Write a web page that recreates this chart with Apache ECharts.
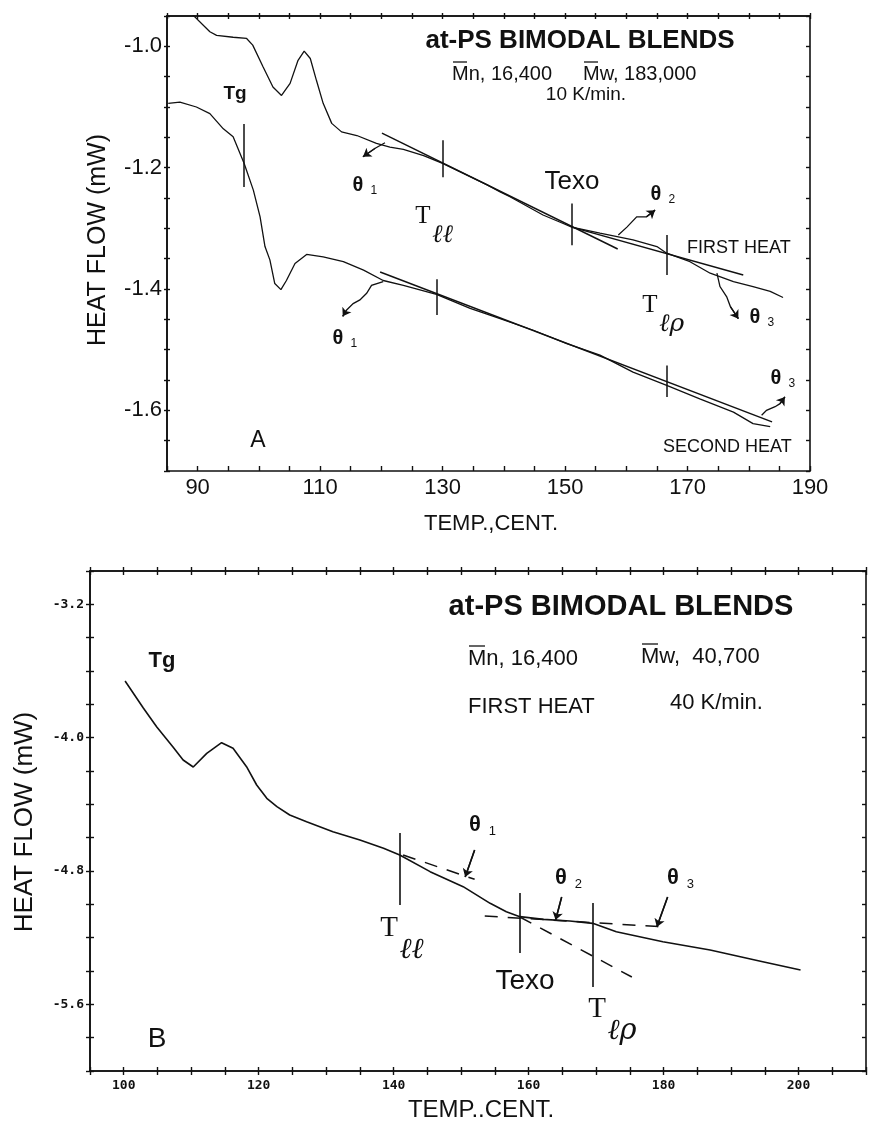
<!DOCTYPE html>
<html><head><meta charset="utf-8">
<script src="https://cdn.jsdelivr.net/npm/echarts@6/dist/echarts.min.js"></script>
<style>html,body{margin:0;padding:0;background:#fff}#c{width:869px;height:1122px}</style>
</head><body><div id="c"></div>
<script>
// ---------- Panel A data ----------
const fhT = [88.5, 89.2, 92.0, 93.1, 95.8, 98.0, 99.0, 100.7, 102.3, 103.7, 105.1, 106.4, 107.4, 108.4, 109.4, 110.5, 111.9, 113.5, 116.0, 119.2, 121.4, 123.6, 126.9, 130.0, 137.2, 139.4, 141.0, 146.4, 149.7, 151.1, 155.7, 161.1, 165.0, 166.6, 170.4, 173.7, 177.5, 180.7, 183.5, 185.6];
const fhV = [-0.935, -0.948, -0.976, -0.982, -0.985, -0.987, -0.998, -1.034, -1.067, -1.081, -1.061, -1.023, -1.008, -1.020, -1.056, -1.094, -1.127, -1.141, -1.147, -1.160, -1.166, -1.170, -1.180, -1.193, -1.228, -1.240, -1.248, -1.278, -1.292, -1.298, -1.308, -1.319, -1.330, -1.341, -1.355, -1.374, -1.388, -1.396, -1.404, -1.414];
const shT = [85.2, 87.1, 89.8, 92.0, 94.2, 95.8, 97.6, 99.1, 100.2, 101.0, 101.8, 102.6, 103.6, 104.5, 105.9, 107.8, 110.5, 113.8, 117.1, 120.3, 123.6, 129.0, 134.5, 139.4, 144.8, 150.3, 155.7, 161.1, 166.6, 172.0, 177.5, 180.7, 183.5];
const shV = [-1.094, -1.092, -1.100, -1.111, -1.136, -1.149, -1.193, -1.237, -1.281, -1.330, -1.352, -1.391, -1.401, -1.386, -1.358, -1.343, -1.347, -1.355, -1.369, -1.386, -1.394, -1.409, -1.432, -1.449, -1.468, -1.490, -1.509, -1.537, -1.559, -1.581, -1.603, -1.622, -1.627];
const aTangents = [
  [[120.1, -1.143], [158.6, -1.334]],
  [[151.1, -1.298], [179.1, -1.377]],
  [[119.8, -1.372], [183.8, -1.619]]
];
const aTickT   = [97.6, 130.0, 151.1, 166.6, 129.0, 166.6];
const aTickTop = [-1.128, -1.155, -1.259, -1.311, -1.384, -1.526];
const aTickBot = [-1.232, -1.216, -1.328, -1.377, -1.443, -1.578];
const aArrows = [
  [[120.6, -1.159], [119.0, -1.168], [117.0, -1.182]],
  [[120.3, -1.388], [118.4, -1.394], [117.6, -1.407], [116.5, -1.418], [115.4, -1.424], [114.3, -1.435], [113.7, -1.445]],
  [[158.7, -1.311], [160.1, -1.298], [161.7, -1.281], [163.3, -1.281], [164.7, -1.270]],
  [[174.8, -1.374], [175.3, -1.396], [176.4, -1.413], [177.0, -1.429], [178.3, -1.449]],
  [[182.1, -1.608], [182.9, -1.600], [184.3, -1.594], [185.1, -1.589], [185.9, -1.578]]
];
const aXLabels = [90, 110, 130, 150, 170, 190];
const aYLabels = [-1.0, -1.2, -1.4, -1.6];

// ---------- Panel B data ----------
const bT = [100.2, 102.9, 104.9, 107.3, 108.8, 110.3, 112.3, 114.5, 116.2, 118.2, 119.7, 121.2, 122.7, 124.6, 127.1, 131.0, 135.0, 138.5, 140.9, 145.4, 150.3, 154.3, 156.7, 158.7, 162.2, 166.1, 169.5, 173.0, 179.9, 186.9, 194.7, 200.3];
const bV = [-3.660, -3.822, -3.936, -4.056, -4.134, -4.176, -4.094, -4.030, -4.064, -4.174, -4.284, -4.364, -4.414, -4.464, -4.504, -4.564, -4.614, -4.664, -4.704, -4.804, -4.894, -4.994, -5.044, -5.074, -5.090, -5.100, -5.114, -5.164, -5.224, -5.274, -5.344, -5.394];
const bDashed = [
  [[141.4, -4.704], [152.0, -4.850]],
  [[158.7, -5.076], [175.3, -5.436]],
  [[153.5, -5.070], [180.2, -5.136]]
];
const bTickT   = [140.9, 158.7, 169.5];
const bTickTop = [-4.572, -4.932, -4.992];
const bTickBot = [-5.004, -5.292, -5.496];
const bArrows = [
  [[152.0, -4.674], [150.6, -4.836]],
  [[164.9, -4.956], [164.0, -5.094]],
  [[180.6, -4.956], [179.0, -5.136]]
];
const bXLabels = [100, 120, 140, 160, 180, 200];
const bYLabels = [-3.2, -4.0, -4.8, -5.6];

// ---------- build ----------
const zip = (a, b) => a.map((v, i) => [v, b[i]]);
const BLK = '#111';
const SANS = 'Liberation Sans';

function xAx(grid, pos, min, max, iv, inside, len, labels, lblStyle) {
  return {
    type: 'value', gridIndex: grid, position: pos, min, max, interval: iv,
    axisLine: { show: true, onZero: false, lineStyle: { color: BLK, width: 1.6 } },
    axisTick: { show: true, inside, length: len, lineStyle: { color: BLK, width: 1.4 } },
    splitLine: { show: false },
    axisLabel: labels ? Object.assign({ show: true, color: BLK,
      formatter: v => labels.some(l => Math.abs(l - v) < 1e-6) ? String(Math.round(v)) : '' }, lblStyle) : { show: false }
  };
}
function yAx(grid, pos, min, max, iv, inside, len, labels, lblStyle) {
  return {
    type: 'value', gridIndex: grid, position: pos, min, max, interval: iv,
    axisLine: { show: true, onZero: false, lineStyle: { color: BLK, width: 1.6 } },
    axisTick: { show: true, inside, length: len, lineStyle: { color: BLK, width: 1.4 } },
    splitLine: { show: false },
    axisLabel: labels ? Object.assign({ show: true, color: BLK,
      formatter: v => labels.some(l => Math.abs(l - v) < 1e-6) ? v.toFixed(1) : '' }, lblStyle) : { show: false }
  };
}

const aXL = { fontFamily: SANS, fontSize: 22, margin: 6 };
const aYL = { fontFamily: SANS, fontSize: 22, margin: 5 };
const bXL = { fontFamily: 'DejaVu Sans Mono', fontWeight: 'bold', fontSize: 13, margin: 8 };
const bYL = { fontFamily: 'DejaVu Sans Mono', fontWeight: 'bold', fontSize: 13, margin: 6 };

const xAxis = [
  xAx(0, 'bottom', 85, 190, 5, true, 5, aXLabels, aXL),
  xAx(0, 'top', 85, 190, 5, true, 3),
  xAx(0, 'top', 85, 190, 5, false, 3),
  xAx(1, 'bottom', 95, 210, 5, false, 4, bXLabels, bXL),
  xAx(1, 'bottom', 95, 210, 5, true, 4),
  xAx(1, 'top', 95, 210, 5, true, 4),
  xAx(1, 'top', 95, 210, 5, false, 4)
];
const yAxis = [
  yAx(0, 'left', -1.7, -0.95, 0.05, false, 3, aYLabels, aYL),
  yAx(0, 'left', -1.7, -0.95, 0.05, true, 3),
  yAx(0, 'right', -1.7, -0.95, 0.05, true, 4),
  yAx(1, 'left', -6.0, -3.0, 0.2, false, 4, bYLabels, bYL),
  yAx(1, 'left', -6.0, -3.0, 0.2, true, 4),
  yAx(1, 'right', -6.0, -3.0, 0.2, true, 4)
];

const series = [];
function curve(data, xi, yi, w, extra) {
  series.push(Object.assign({ type: 'line', xAxisIndex: xi, yAxisIndex: yi, data, showSymbol: false, symbol: 'none',
    clip: true, silent: true, lineStyle: { color: BLK, width: w } }, extra || {}));
}
function ticks(T, top, bot, xi, yi, w) {
  series.push({ type: 'lines', coordinateSystem: 'cartesian2d', xAxisIndex: xi, yAxisIndex: yi, silent: true,
    data: T.map((t, i) => ({ coords: [[t, top[i]], [t, bot[i]]] })),
    lineStyle: { color: BLK, width: w, opacity: 1 } });
}
function arrows(list, xi, yi, w) {
  series.push({ type: 'lines', coordinateSystem: 'cartesian2d', xAxisIndex: xi, yAxisIndex: yi, silent: true,
    polyline: true, data: list.map(c => ({ coords: c })), lineStyle: { color: BLK, width: w, opacity: 1 } });
  series.push({ type: 'lines', coordinateSystem: 'cartesian2d', xAxisIndex: xi, yAxisIndex: yi, silent: true,
    symbol: ['none', 'arrow'], symbolSize: 8,
    data: list.map(c => ({ coords: c.slice(-2) })), lineStyle: { color: BLK, width: w, opacity: 1 } });
}
curve(zip(fhT, fhV), 0, 0, 1.3);
curve(zip(shT, shV), 0, 0, 1.3);
aTangents.forEach(t => curve(t, 0, 0, 1.5));
ticks(aTickT, aTickTop, aTickBot, 0, 0, 1.5);
arrows(aArrows, 0, 0, 1.3);

curve(zip(bT, bV), 3, 3, 1.6);
bDashed.forEach(t => curve(t, 3, 3, 1.5, { lineStyle: { color: BLK, width: 1.5, type: [13, 10] } }));
ticks(bTickT, bTickTop, bTickBot, 3, 3, 1.6);
arrows(bArrows, 3, 3, 1.5);

// ---------- text annotations ----------
const G = [];
function txt(text, x, y, font, align, rot) {
  G.push({ type: 'text', x, y, rotation: rot || 0, silent: true,
    style: { text, font, fill: BLK, align: align || 'center', verticalAlign: 'middle',
             textAlign: align || 'center', textVerticalAlign: 'middle' } });
}
function bar(x1, x2, y) {
  G.push({ type: 'line', silent: true, shape: { x1, y1: y, x2, y2: y }, style: { stroke: BLK, lineWidth: 1.3 } });
}
function theta(x, y, sub, size) {
  txt('θ', x, y, 'bold ' + size + 'px ' + SANS, 'center');
  txt(sub, x + size * 0.62, y + size * 0.28, Math.round(size * 0.6) + 'px ' + SANS, 'left');
}
function tsub(x, y, sub, size) {
  txt('T', x, y, size + 'px "Liberation Serif"', 'center');
  txt(sub, x + size * 0.36, y + size * 0.78, 'italic ' + size + 'px "DejaVu Serif"', 'left');
}
// Panel A
txt('at-PS BIMODAL BLENDS', 580, 41, 'bold 26px ' + SANS);
txt('Mn, 16,400', 452, 74, '20px ' + SANS, 'left');
bar(453, 467, 62);
txt('Mw, 183,000', 583, 74, '20px ' + SANS, 'left');
bar(584, 598, 62);
txt('10 K/min.', 586, 95, '19px ' + SANS);
txt('Tg', 235, 94, 'bold 19px ' + SANS);
theta(358, 185, '1', 20);
tsub(423, 216, 'ℓℓ', 25);
txt('Texo', 572, 182, '26px ' + SANS);
theta(656, 194, '2', 20);
txt('FIRST HEAT', 687, 248, '18px ' + SANS, 'left');
tsub(650, 305, 'ℓρ', 25);
theta(755, 317, '3', 20);
theta(776, 378, '3', 20);
txt('SECOND HEAT', 663, 447, '18px ' + SANS, 'left');
txt('A', 258, 441, '23px ' + SANS);
theta(338, 338, '1', 20);
txt('HEAT FLOW (mW)', 98, 240, '25px ' + SANS, 'center', Math.PI / 2);
txt('TEMP.,CENT.', 491, 524, '22px ' + SANS);
// Panel B
txt('at-PS BIMODAL BLENDS', 621, 607, 'bold 29px ' + SANS);
txt('Mn, 16,400', 468, 659, '22px ' + SANS, 'left');
bar(469, 485, 646);
txt('Mw,  40,700', 641, 657, '22px ' + SANS, 'left');
bar(642, 658, 644);
txt('FIRST HEAT', 468, 707, '22px ' + SANS, 'left');
txt('40 K/min.', 670, 703, '22px ' + SANS, 'left');
txt('Tg', 162, 661, 'bold 22px ' + SANS);
theta(475, 825, '1', 22);
theta(561, 878, '2', 22);
theta(673, 878, '3', 22);
txt('Texo', 525, 981, '28px ' + SANS);
tsub(597, 1009, 'ℓρ', 29);
tsub(389, 928, 'ℓℓ', 29);
txt('B', 157, 1039, '28px ' + SANS);
txt('HEAT FLOW (mW)', 25, 822, '26px ' + SANS, 'center', Math.PI / 2);
txt('TEMP..CENT.', 481, 1110, '24px ' + SANS);

const chart = echarts.init(document.getElementById('c'), null, { renderer: 'canvas' });
chart.setOption({
  animation: false,
  backgroundColor: '#fff',
  grid: [
    { left: 167, top: 16, width: 643, height: 455, containLabel: false },
    { left: 90, top: 571, width: 778, height: 500, containLabel: false }
  ],
  xAxis, yAxis, series, graphic: G
});
</script></body></html>
